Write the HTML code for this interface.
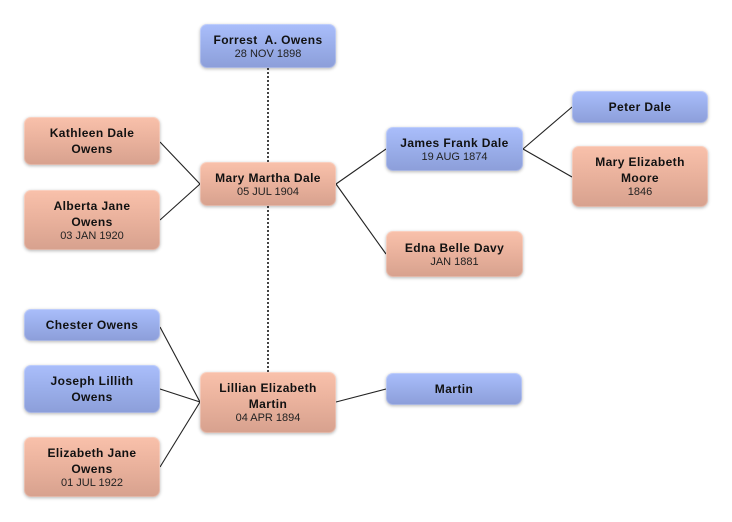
<!DOCTYPE html>
<html>
<head>
<meta charset="utf-8">
<style>
  html, body { margin: 0; padding: 0; }
  body { width: 732px; height: 522px; background: #ffffff; position: relative; overflow: hidden;
         font-family: "Liberation Sans", "DejaVu Sans", sans-serif; }
  svg { position: absolute; left: 0; top: 0; }
  .n { position: absolute; box-sizing: border-box; border-radius: 7px;
       display: flex; flex-direction: column; align-items: center; justify-content: center;
       text-align: center; color: #111;
       box-shadow: 0 1px 3px rgba(0,0,0,0.28), inset 0 0 0 1px rgba(255,255,255,0.25); }
  .b { background: linear-gradient(to bottom, #aabefb 0%, #9aaeea 50%, #8c9ed9 100%); }
  .s { background: linear-gradient(to bottom, #f9c1ab 0%, #e9b19c 50%, #d7a18e 100%); }
  .nm { font-weight: bold; font-size: 12px; line-height: 16px; letter-spacing: 0.4px; }
  .dt { font-size: 11px; line-height: 13px; color: #222; }
</style>
</head>
<body>
<svg width="732" height="522" viewBox="0 0 732 522">
  <g stroke="#444" stroke-width="2" stroke-dasharray="2,2" fill="none">
    <line x1="268" y1="68" x2="268" y2="162"/>
    <line x1="268" y1="206" x2="268" y2="372"/>
  </g>
  <g stroke="#222" stroke-width="1.1" fill="none">
    <line x1="160" y1="142" x2="200" y2="184"/>
    <line x1="160" y1="220" x2="200" y2="184"/>
    <line x1="336" y1="184" x2="386" y2="149"/>
    <line x1="336" y1="184" x2="386" y2="254"/>
    <line x1="523" y1="149" x2="572" y2="107"/>
    <line x1="523" y1="149" x2="572" y2="177"/>
    <line x1="160" y1="327" x2="200" y2="402"/>
    <line x1="160" y1="389" x2="200" y2="402"/>
    <line x1="160" y1="467" x2="200" y2="402"/>
    <line x1="336" y1="402" x2="386" y2="389"/>
  </g>
</svg>

<div class="n b" style="left:200px;top:24px;width:136px;height:44px;">
  <div class="nm">Forrest&nbsp; A. Owens</div><div class="dt">28 NOV 1898</div>
</div>
<div class="n s" style="left:200px;top:162px;width:136px;height:44px;">
  <div class="nm">Mary Martha Dale</div><div class="dt">05 JUL 1904</div>
</div>
<div class="n s" style="left:24px;top:117px;width:136px;height:48px;">
  <div class="nm">Kathleen Dale<br>Owens</div>
</div>
<div class="n s" style="left:24px;top:190px;width:136px;height:60px;">
  <div class="nm">Alberta Jane<br>Owens</div><div class="dt">03 JAN 1920</div>
</div>
<div class="n b" style="left:386px;top:127px;width:137px;height:44px;">
  <div class="nm">James Frank Dale</div><div class="dt">19 AUG 1874</div>
</div>
<div class="n s" style="left:386px;top:231px;width:137px;height:46px;">
  <div class="nm">Edna Belle Davy</div><div class="dt">JAN 1881</div>
</div>
<div class="n b" style="left:572px;top:91px;width:136px;height:32px;">
  <div class="nm">Peter Dale</div>
</div>
<div class="n s" style="left:572px;top:146px;width:136px;height:61px;">
  <div class="nm">Mary Elizabeth<br>Moore</div><div class="dt">1846</div>
</div>
<div class="n b" style="left:24px;top:309px;width:136px;height:32px;">
  <div class="nm">Chester Owens</div>
</div>
<div class="n b" style="left:24px;top:365px;width:136px;height:48px;">
  <div class="nm">Joseph Lillith<br>Owens</div>
</div>
<div class="n s" style="left:24px;top:437px;width:136px;height:60px;">
  <div class="nm">Elizabeth Jane<br>Owens</div><div class="dt">01 JUL 1922</div>
</div>
<div class="n s" style="left:200px;top:372px;width:136px;height:61px;">
  <div class="nm">Lillian Elizabeth<br>Martin</div><div class="dt">04 APR 1894</div>
</div>
<div class="n b" style="left:386px;top:373px;width:136px;height:32px;">
  <div class="nm">Martin</div>
</div>
</body>
</html>
